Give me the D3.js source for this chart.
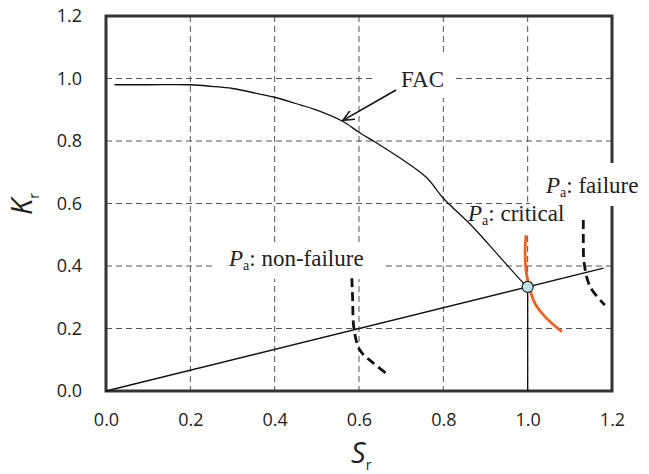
<!DOCTYPE html>
<html>
<head>
<meta charset="utf-8">
<script src="https://cdn.jsdelivr.net/npm/d3@7"></script>
<style>
  html, body { margin: 0; padding: 0; background: #fff; }
  svg { display: block; }
</style>
</head>
<body>
<svg id="chart" width="649" height="474"></svg>
<script>
// Failure assessment diagram: FAC, load line and three assessment paths
const xTicks = [0.0, 0.2, 0.4, 0.6, 0.8, 1.0, 1.2];
const yTicks = [0.0, 0.2, 0.4, 0.6, 0.8, 1.0, 1.2];

// Failure assessment curve (FAC)
const facS = [0.02, 0.10, 0.20, 0.25, 0.30, 0.365, 0.40, 0.45, 0.50, 0.56, 0.60, 0.64, 0.69, 0.76, 0.80, 0.87, 0.93, 0.99, 1.00];
const facK = [0.98, 0.98, 0.98, 0.975, 0.968, 0.95, 0.94, 0.92, 0.899, 0.864, 0.828, 0.795, 0.752, 0.683, 0.617, 0.525, 0.435, 0.345, 0.332];

// Load line through the origin
const loadS = [0.0, 1.18];
const loadK = [0.0, 0.393];

// Assessment point paths
const nonFailS = [0.583, 0.585, 0.588, 0.602, 0.634, 0.670];
const nonFailK = [0.361, 0.291, 0.200, 0.131, 0.089, 0.051];
const criticalS = [0.996, 0.994, 0.996, 1.004, 1.017, 1.041, 1.081];
const criticalK = [0.499, 0.451, 0.387, 0.332, 0.281, 0.238, 0.190];
const failS = [1.132, 1.132, 1.134, 1.148, 1.183];
const failK = [0.547, 0.473, 0.409, 0.334, 0.275];

// Critical point (FAC ∩ load line)
const critPointS = 1.0;
const critPointK = 0.333;

const svg = d3.select("#chart");
const x = d3.scaleLinear().domain([0, 1.2]).range([106, 612]);
const y = d3.scaleLinear().domain([0, 1.2]).range([391, 16]);
const zip = (a, b) => a.map((v, i) => [v, b[i]]);

// Grid
const grid = svg.append("g")
  .attr("stroke", "#555").attr("stroke-width", 1).attr("stroke-dasharray", "6,4").attr("fill", "none");
xTicks.filter(t => t > 0 && t < 1.2).forEach(t => {
  grid.append("line").attr("x1", x(t)).attr("x2", x(t)).attr("y1", y(1.2)).attr("y2", y(0));
});
yTicks.filter(t => t > 0 && t < 1.2).forEach(t => {
  grid.append("line").attr("x1", x(0)).attr("x2", x(1.2)).attr("y1", y(t)).attr("y2", y(t));
});

// Plot frame
svg.append("rect")
  .attr("x", x(0)).attr("y", y(1.2))
  .attr("width", x(1.2) - x(0)).attr("height", y(0) - y(1.2))
  .attr("fill", "none").attr("stroke", "#333").attr("stroke-width", 3);

// Axes
const fmt = d3.format(".1f");
const yAxis = svg.append("g").attr("transform", `translate(${x(0)},0)`)
  .call(d3.axisLeft(y).tickValues(yTicks).tickFormat(fmt).tickSize(0).tickPadding(24));
const xAxis = svg.append("g").attr("transform", `translate(0,${y(0)})`)
  .call(d3.axisBottom(x).tickValues(xTicks).tickFormat(fmt).tickSize(0).tickPadding(22));
[xAxis, yAxis].forEach(a => {
  a.select(".domain").remove();
  a.selectAll("text").attr("font-family", "'Open Sans', sans-serif").attr("font-size", 18).attr("fill", "#222");
});

// Axis titles
const sTitle = svg.append("text").attr("x", x(0.6) - 8).attr("y", 463)
  .attr("font-family", "'Open Sans', sans-serif").attr("fill", "#222");
sTitle.append("tspan").attr("font-style", "italic").attr("font-size", 29).text("S");
sTitle.append("tspan").attr("font-size", 14).attr("dy", 7).text("r");

const kTitle = svg.append("text").attr("transform", "translate(32,215) rotate(-90)")
  .attr("font-family", "'Open Sans', sans-serif").attr("fill", "#222");
kTitle.append("tspan").attr("font-style", "italic").attr("font-size", 29).text("K");
kTitle.append("tspan").attr("font-size", 14).attr("dy", 7).text("r");

// Annotation labels with white backgrounds
const serif = "'Liberation Serif', 'Times New Roman', serif";
const annoSize = 23;
function whiteBox(box) {
  svg.append("rect").attr("x", box[0]).attr("y", box[1])
    .attr("width", box[2] - box[0]).attr("height", box[3] - box[1]).attr("fill", "#fff");
}
function paText(tx, ty, rest) {
  const t = svg.append("text").attr("x", tx).attr("y", ty)
    .attr("font-family", serif).attr("font-size", annoSize).attr("fill", "#222");
  t.append("tspan").attr("font-style", "italic").text("P");
  t.append("tspan").attr("font-size", 14).attr("dy", 4).text("a");
  t.append("tspan").attr("dy", -4).text(rest);
  return t;
}

whiteBox([375, 53, 456, 98]);
svg.append("text").attr("x", 401).attr("y", 87)
  .attr("font-family", serif).attr("font-size", annoSize).attr("fill", "#222").text("FAC");

whiteBox([213, 245, 383, 279]);
paText(229, 266, ": non-failure");
whiteBox([530, 163, 649, 206]);
paText(546, 193, ": failure");
whiteBox([462, 205, 572, 236]);

const lineGen = d3.line().x(d => x(d[0])).y(d => y(d[1]));
const smooth = d3.line().x(d => x(d[0])).y(d => y(d[1])).curve(d3.curveCatmullRom.alpha(0.5));

// FAC curve
svg.append("path").datum(zip(facS, facK)).attr("d", smooth)
  .attr("fill", "none").attr("stroke", "#111").attr("stroke-width", 1.3);

// Critical label text (drawn over the FAC curve)
paText(468, 221, ": critical");

// Load line
svg.append("path").datum(zip(loadS, loadK)).attr("d", lineGen)
  .attr("fill", "none").attr("stroke", "#111").attr("stroke-width", 1.3);

// Drop line from the critical point to the S axis
svg.append("line")
  .attr("x1", x(critPointS)).attr("x2", x(critPointS))
  .attr("y1", y(critPointK)).attr("y2", y(0))
  .attr("stroke", "#111").attr("stroke-width", 1.3);

// Assessment paths
svg.append("path").datum(zip(nonFailS, nonFailK)).attr("d", smooth)
  .attr("fill", "none").attr("stroke", "#111").attr("stroke-width", 2.8).attr("stroke-dasharray", "9,5");
svg.append("path").datum(zip(failS, failK)).attr("d", smooth)
  .attr("fill", "none").attr("stroke", "#111").attr("stroke-width", 2.8).attr("stroke-dasharray", "9,5");
svg.append("path").datum(zip(criticalS, criticalK)).attr("d", smooth)
  .attr("fill", "none").attr("stroke", "#f0601e").attr("stroke-width", 2.8);

// Critical point marker
svg.append("circle").attr("cx", x(critPointS)).attr("cy", y(critPointK)).attr("r", 5.5)
  .attr("fill", "#bde3ea").attr("stroke", "#222").attr("stroke-width", 1.2);

// FAC pointer arrow
svg.append("defs").append("marker").attr("id", "arrow")
  .attr("viewBox", "0 0 12 10").attr("refX", 11).attr("refY", 5)
  .attr("markerWidth", 12).attr("markerHeight", 10).attr("markerUnits", "userSpaceOnUse")
  .attr("orient", "auto")
  .append("path").attr("d", "M0,0 L11,5 L0,10").attr("fill", "none").attr("stroke", "#111").attr("stroke-width", 1.6);
svg.append("line").attr("x1", 396).attr("y1", 90).attr("x2", x(0.562)).attr("y2", y(0.866))
  .attr("stroke", "#111").attr("stroke-width", 1.6).attr("marker-end", "url(#arrow)");
</script>
</body>
</html>
